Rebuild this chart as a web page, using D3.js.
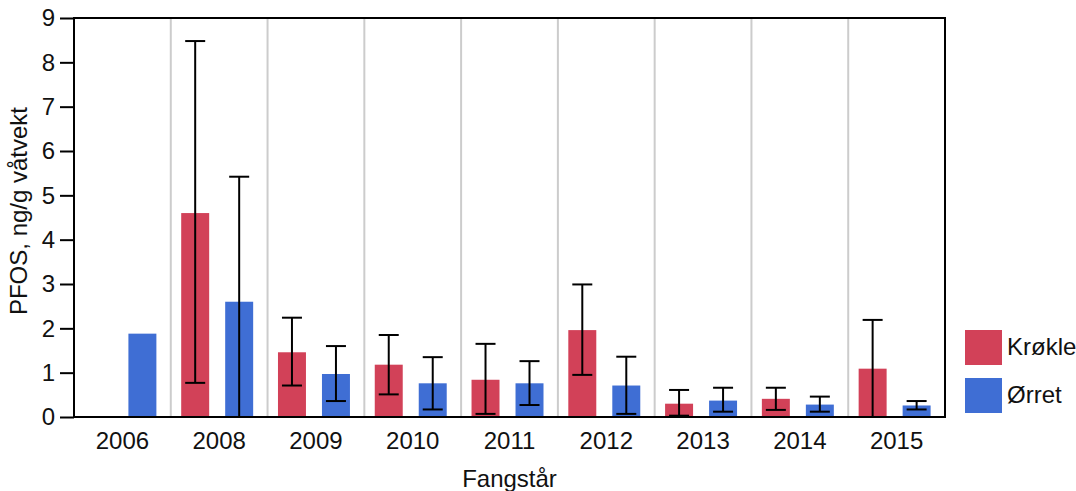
<!DOCTYPE html>
<html>
<head>
<meta charset="utf-8">
<script src="https://cdn.jsdelivr.net/npm/d3@7"></script>
<style>
  body { margin: 0; background: #fff; }
  svg { display: block; font-family: "Liberation Sans", Arial, Helvetica, sans-serif; }
</style>
</head>
<body>
<svg id="chart" width="1076" height="491"></svg>
<script>
const years = ["2006", "2008", "2009", "2010", "2011", "2012", "2013", "2014", "2015"];
const seriesNames = ["Krøkle", "Ørret"];
const krokleMean  = [null, 4.60, 1.46, 1.18, 0.84, 1.96, 0.30, 0.41, 1.09];
const krokleLow   = [null, 0.77, 0.71, 0.51, 0.07, 0.95, 0.03, 0.16, 0.00];
const krokleHigh  = [null, 8.48, 2.24, 1.85, 1.65, 2.99, 0.61, 0.66, 2.19];
const orretMean   = [1.88, 2.60, 0.97, 0.76, 0.76, 0.71, 0.37, 0.28, 0.26];
const orretLow    = [null, 0.00, 0.36, 0.17, 0.27, 0.07, 0.12, 0.12, 0.17];
const orretHigh   = [null, 5.42, 1.60, 1.35, 1.26, 1.36, 0.66, 0.46, 0.36];
const yTicks = [0, 1, 2, 3, 4, 5, 6, 7, 8, 9];
const colors = ["#d24158", "#3f6ed4"];
const yLabel = "PFOS, ng/g våtvekt";
const xLabel = "Fangstår";

(function () {
const svg = d3.select("#chart");
const pL = 74, pT = 18, pR = 945, pB = 417;
const fs = 24;

const x = d3.scaleBand().domain(years).range([pL, pR]).padding(0);
const xi = d3.scaleBand().domain(seriesNames).range([0, x.bandwidth()])
  .paddingInner(0.364).paddingOuter(0.282).align(0.42);
const y = d3.scaleLinear().domain([0, 9]).range([pB, pT]);

// separators
svg.append("g").selectAll("line")
  .data(years.slice(1))
  .join("line")
  .attr("x1", d => x(d)).attr("x2", d => x(d))
  .attr("y1", pT).attr("y2", pB)
  .attr("stroke", "#cccccc").attr("stroke-width", 2);

const rows = [];
years.forEach((yr, i) => {
  rows.push({ yr, s: seriesNames[0], v: krokleMean[i], lo: krokleLow[i], hi: krokleHigh[i], c: colors[0] });
  rows.push({ yr, s: seriesNames[1], v: orretMean[i], lo: orretLow[i], hi: orretHigh[i], c: colors[1] });
});
const valid = rows.filter(d => d.v !== null);

svg.append("g").selectAll("rect")
  .data(valid)
  .join("rect")
  .attr("x", d => x(d.yr) + xi(d.s))
  .attr("width", xi.bandwidth())
  .attr("y", d => y(d.v))
  .attr("height", d => y(0) - y(d.v))
  .attr("fill", d => d.c);

const eb = valid.filter(d => d.hi !== null);
const capW = 20;
const eg = svg.append("g").attr("stroke", "#000").attr("stroke-width", 2);
eb.forEach(d => {
  const cx = x(d.yr) + xi(d.s) + xi.bandwidth() / 2;
  eg.append("line").attr("x1", cx).attr("x2", cx).attr("y1", y(d.lo)).attr("y2", y(d.hi));
  eg.append("line").attr("x1", cx - capW / 2).attr("x2", cx + capW / 2).attr("y1", y(d.hi)).attr("y2", y(d.hi));
  if (d.lo > 0) eg.append("line").attr("x1", cx - capW / 2).attr("x2", cx + capW / 2).attr("y1", y(d.lo)).attr("y2", y(d.lo));
});

// frame
svg.append("rect").attr("x", pL).attr("y", pT)
  .attr("width", pR - pL).attr("height", pB - pT)
  .attr("fill", "none").attr("stroke", "#000").attr("stroke-width", 2);

// y axis
const ya = svg.append("g").attr("transform", `translate(${pL},0)`)
  .call(d3.axisLeft(y).tickValues(yTicks).tickSize(14).tickPadding(5).tickFormat(d3.format("d")));
ya.select(".domain").remove();
ya.selectAll("line").attr("stroke", "#000").attr("stroke-width", 2);
ya.selectAll("text").attr("font-size", fs).attr("fill", "#111");
ya.attr("font-family", null).attr("font-size", null);

// x axis
const xa = svg.append("g").attr("transform", `translate(0,${pB})`)
  .call(d3.axisBottom(x).tickSize(0));
xa.select(".domain").remove();
xa.selectAll("text").attr("font-size", fs).attr("fill", "#111").attr("y", 32).attr("dy", 0);
xa.attr("font-family", null).attr("font-size", null);

// axis titles
svg.append("text").attr("x", (pL + pR) / 2).attr("y", 487)
  .attr("text-anchor", "middle").attr("font-size", fs).attr("fill", "#111").text(xLabel);
svg.append("text").attr("transform", "translate(27,211) rotate(-90)")
  .attr("text-anchor", "middle").attr("font-size", fs).attr("fill", "#111").text(yLabel);

// legend
const lg = svg.append("g");
seriesNames.forEach((s, i) => {
  lg.append("rect").attr("x", 965).attr("y", 330 + i * 48).attr("width", 37).attr("height", 35).attr("fill", colors[i]);
  lg.append("text").attr("x", 1007).attr("y", 355 + i * 48).attr("font-size", fs).attr("fill", "#111").text(s);
});
})();
</script>
</body>
</html>
